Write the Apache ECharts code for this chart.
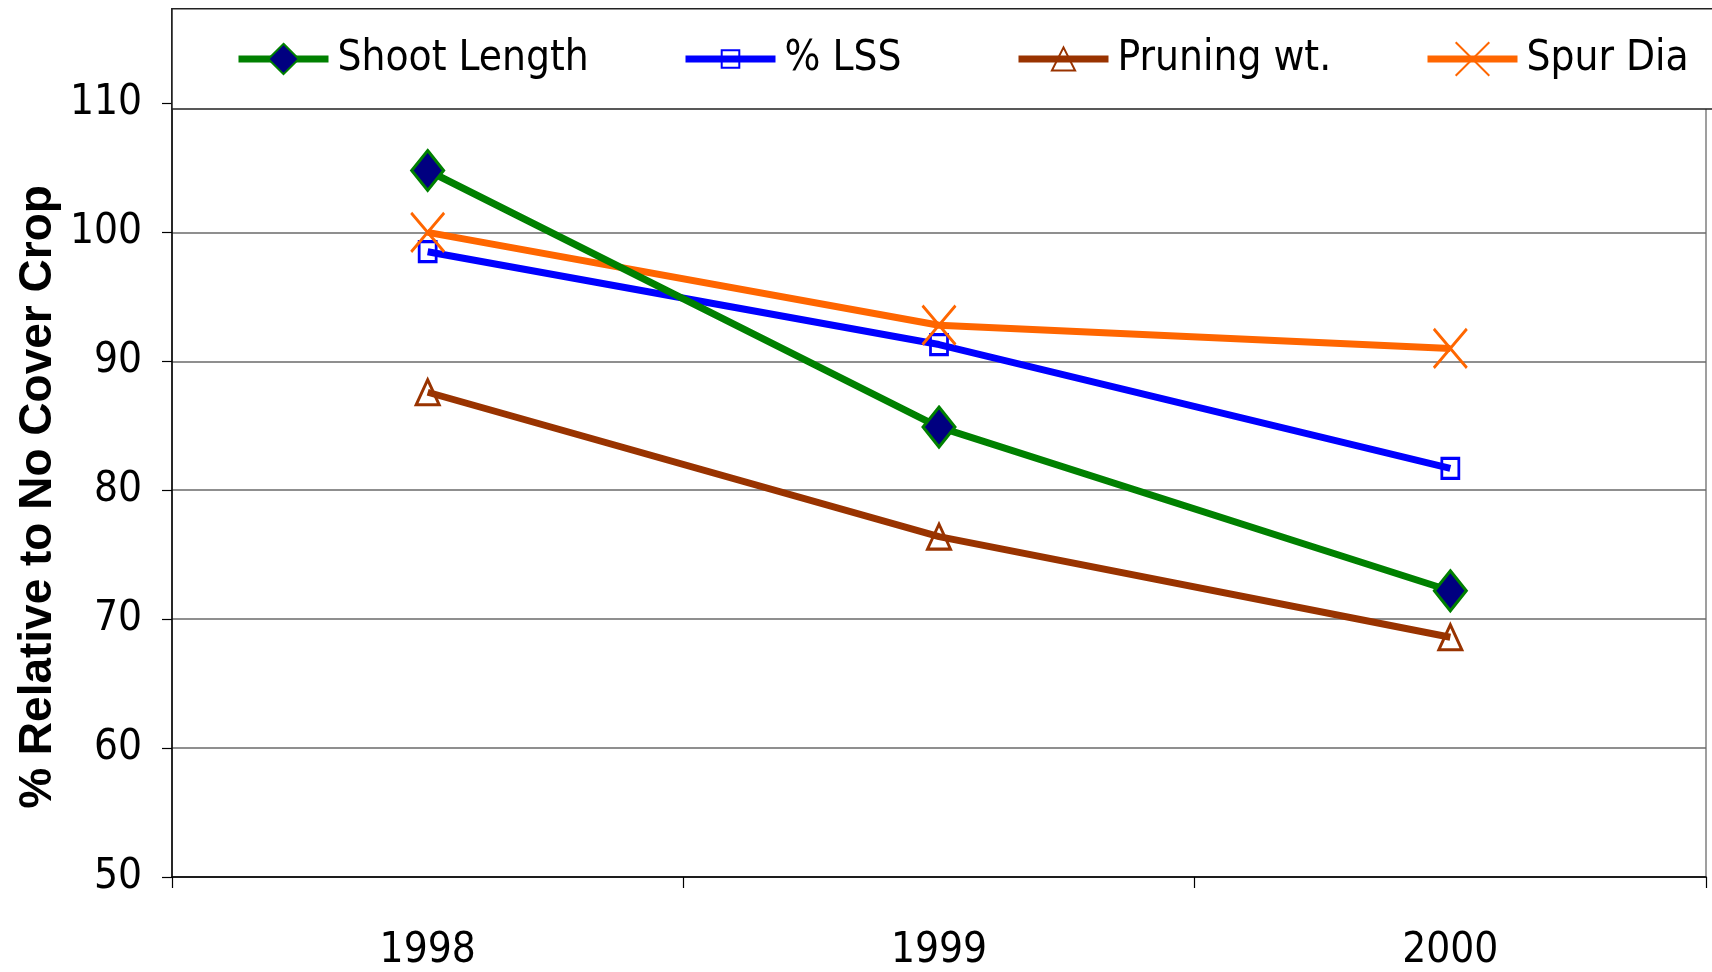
<!DOCTYPE html>
<html>
<head>
<meta charset="utf-8">
<script src="https://cdn.jsdelivr.net/npm/echarts@6/dist/echarts.min.js"></script>
<style>
html,body{margin:0;padding:0;background:#fff;}
#chart{width:1712px;height:972px;}
</style>
</head>
<body>
<div id="chart"></div>
<script>
const years = ['1998', '1999', '2000'];
const shootLength = [104.8, 84.9, 72.2];
const lss = [98.5, 91.3, 81.7];
const pruningWt = [87.6, 76.4, 68.6];
const spurDia = [100.0, 92.8, 91.0];
const yTicks = [50, 60, 70, 80, 90, 100, 110];
const seriesNames = ['Shoot Length', '% LSS', 'Pruning wt.', 'Spur Dia'];
const yTitle = '% Relative to No Cover Crop';

const NARROW = "'Liberation Sans Narrow', 'Arial Narrow', 'DejaVu Sans Condensed', sans-serif";
const crossPath = 'path://M0,0L30,36M30,0L0,36';

const chart = echarts.init(document.getElementById('chart'));

function legendAt(name, left, itemHeight) {
  return {
    data: [name], left: left, top: 33, orient: 'horizontal',
    itemWidth: 90, itemHeight: itemHeight, z: 20,
    lineStyle: {width: 7},
    textStyle: {fontFamily: NARROW, fontSize: 42, color: '#000', padding: [0, 0, 0, 4]},
    selectedMode: false
  };
}

const option = {
  backgroundColor: '#fff',
  animation: false,
  grid: {left: 172, right: 6, top: 8.7, bottom: 92.5, show: true, borderColor: '#808080', borderWidth: 1.5, backgroundColor: 'transparent'},
  legend: [
    legendAt(seriesNames[0], 230, 38),
    legendAt(seriesNames[1], 677, 22),
    legendAt(seriesNames[2], 1010, 29),
    legendAt(seriesNames[3], 1419, 42)
  ],
  graphic: [
    {type: 'rect', z: 10, shape: {x: 172, y: 8.7, width: 1560, height: 100.3},
     style: {fill: '#fff', stroke: '#222', lineWidth: 1.5}},
    {type: 'text', z: 10, x: 38, y: 497, rotation: Math.PI / 2,
     style: {text: yTitle, fontFamily: "'Liberation Sans', Arial, sans-serif", fontWeight: 'bold', fontSize: 46, fill: '#000', align: 'center', verticalAlign: 'middle'}}
  ],
  xAxis: {
    type: 'category', data: years, boundaryGap: true,
    axisLine: {lineStyle: {color: '#000', width: 1.5}},
    axisTick: {show: true, length: 11, lineStyle: {color: '#000', width: 1.2}},
    axisLabel: {fontFamily: NARROW, fontSize: 42, color: '#000', margin: 53},
    splitLine: {show: false}
  },
  yAxis: {
    type: 'value', min: 50, max: 117.35, interval: 10,
    axisLine: {show: true, lineStyle: {color: '#000', width: 1.5}},
    axisTick: {show: true, length: 10, customValues: yTicks, lineStyle: {color: '#000', width: 1.2}},
    axisLabel: {fontFamily: NARROW, fontSize: 42, color: '#000', margin: 30, customValues: yTicks},
    splitLine: {show: true, lineStyle: {color: '#6a6a6a', width: 1.5}}
  },
  series: [
    {name: seriesNames[0], type: 'line', data: shootLength, z: 4,
     symbol: 'diamond', symbolSize: [32, 40],
     lineStyle: {color: '#008000', width: 7},
     itemStyle: {color: '#000080', borderColor: '#008000', borderWidth: 3}},
    {name: seriesNames[1], type: 'line', data: lss, z: 3,
     symbol: 'rect', symbolSize: [17, 20],
     lineStyle: {color: '#0000FF', width: 7},
     itemStyle: {color: 'rgba(255,255,255,0)', borderColor: '#0000FF', borderWidth: 3}},
    {name: seriesNames[2], type: 'line', data: pruningWt, z: 3,
     symbol: 'triangle', symbolSize: [23, 25],
     lineStyle: {color: '#993300', width: 7},
     itemStyle: {color: 'rgba(255,255,255,0)', borderColor: '#993300', borderWidth: 3}},
    {name: seriesNames[3], type: 'line', data: spurDia, z: 3,
     symbol: crossPath, symbolSize: [33, 39],
     lineStyle: {color: '#FF6600', width: 7},
     itemStyle: {color: 'none', borderColor: '#FF6600', borderWidth: 3}}
  ]
};
chart.setOption(option);
</script>
</body>
</html>
